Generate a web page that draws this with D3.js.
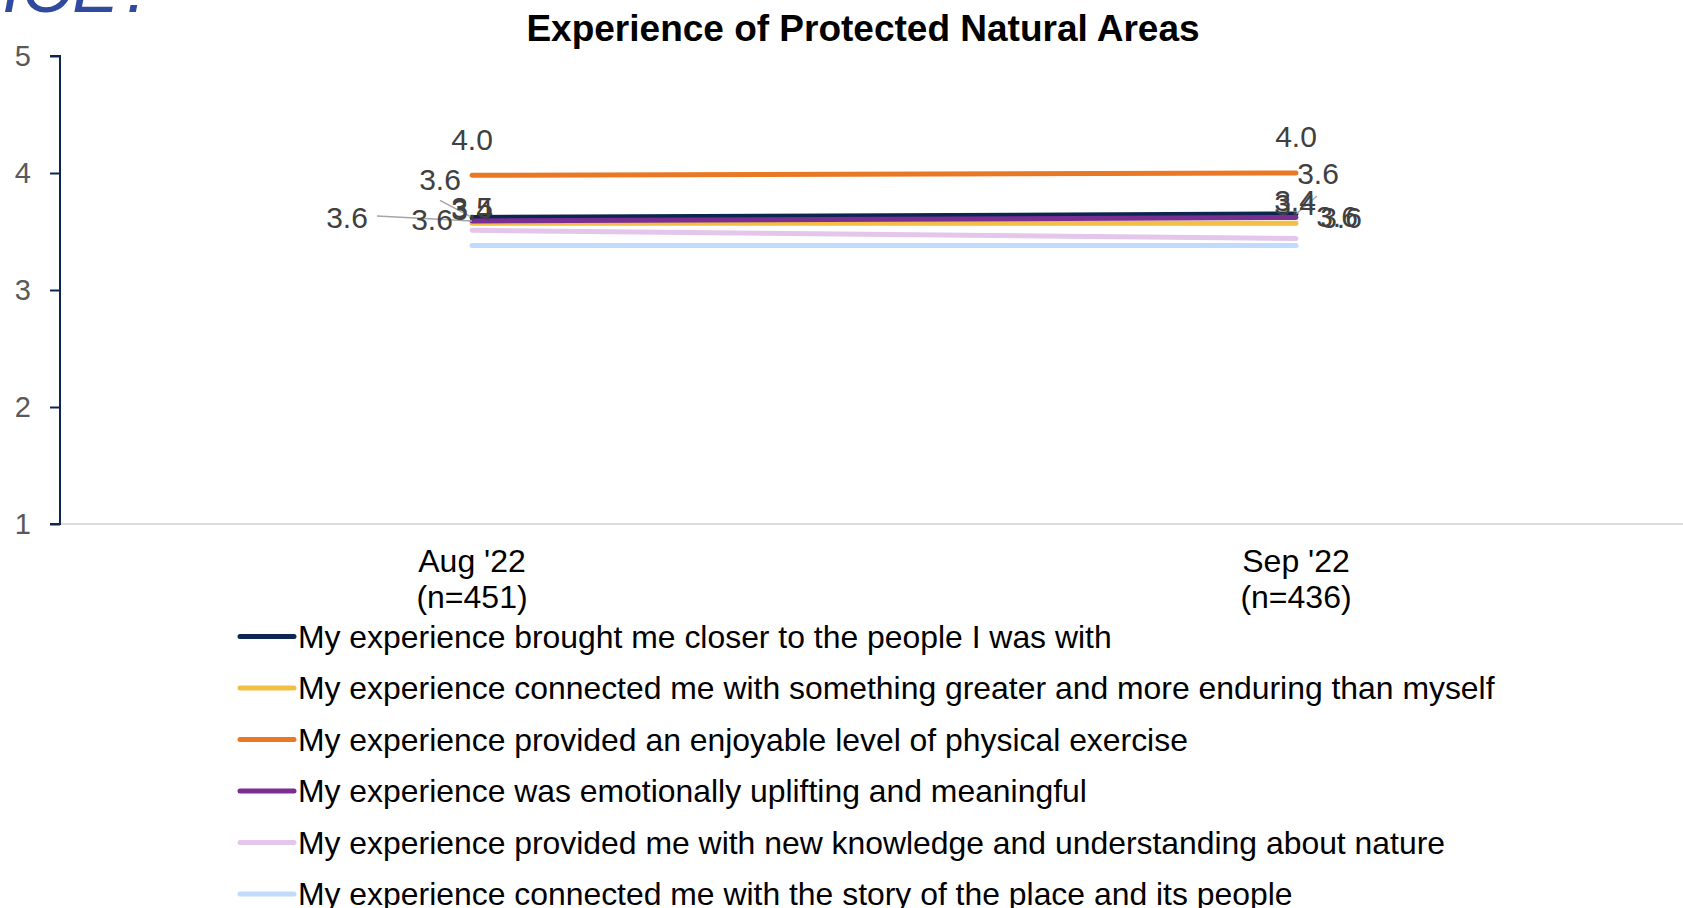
<!DOCTYPE html>
<html>
<head>
<meta charset="utf-8">
<script src="https://cdn.jsdelivr.net/npm/d3@7"></script>
<style>
  body { margin: 0; background: #fff; }
  svg { display: block; font-family: "Liberation Sans", Arial, sans-serif; }
</style>
</head>
<body>
<svg id="chart"></svg>
<script>
// chart data
const periods = ["Aug '22", "Sep '22"];
const sampleSizes = ['(n=451)', '(n=436)'];
const seriesNames = [
  'My experience brought me closer to the people I was with',
  'My experience connected me with something greater and more enduring than myself',
  'My experience provided an enjoyable level of physical exercise',
  'My experience was emotionally uplifting and meaningful',
  'My experience provided me with new knowledge and understanding about nature',
  'My experience connected me with the story of the place and its people'
];
const augValues = [3.62, 3.57, 3.98, 3.59, 3.51, 3.38];
const sepValues = [3.65, 3.57, 4.00, 3.62, 3.44, 3.38];
const seriesColors = ['#0d2650', '#f2be44', '#e97724', '#7a2e91', '#e3c6ea', '#c0dbfb'];
const yTicks = [1, 2, 3, 4, 5];

// label placement (dx, dy from the point, optional leader start) -- excel piled these up
const labelOffsets = [
  [{dx: -32, dy: -27, leader: [-32, -17]}, {dx: 22, dy: -30, leader: [21, -18]}],
  [{dx: -40, dy: 7}, {dx: 45, dy: 5}],
  [{dx: 0, dy: -25}, {dx: 0, dy: -26}],
  [{dx: -125, dy: 7, leader: [-95, -5]}, {dx: 41, dy: 10}],
  [{dx: 0, dy: -12}, {dx: -1, dy: -28}],
  [{dx: 0, dy: -26}, {dx: -1, dy: -31}]
];

const W = 1683, H = 908;
const svg = d3.select('#chart').attr('width', W).attr('height', H);

const plot = {left: 60, right: 1708, top: 56, bottom: 524};

const x = d3.scalePoint()
  .domain(periods)
  .range([plot.left, plot.right])
  .padding(0.5);

const y = d3.scaleLinear()
  .domain([1, 5])
  .range([plot.bottom, plot.top]);

// cut-off slide heading peeking in at the top left
svg.append('text')
  .attr('x', 158)
  .attr('y', 12)
  .attr('text-anchor', 'end')
  .attr('font-size', 70)
  .attr('font-style', 'italic')
  .attr('fill', '#2f4a9e')
  .text('VOICE?');

svg.append('text')
  .attr('x', 863)
  .attr('y', 41)
  .attr('text-anchor', 'middle')
  .attr('font-size', 37)
  .attr('font-weight', 'bold')
  .attr('fill', '#000')
  .text('Experience of Protected Natural Areas');

// category baseline
svg.append('line')
  .attr('x1', plot.left).attr('x2', W)
  .attr('y1', y(1)).attr('y2', y(1))
  .attr('stroke', '#d0d0d0')
  .attr('stroke-width', 1.5);

// y axis
const yAxis = svg.append('g')
  .attr('transform', `translate(${plot.left},0)`)
  .call(d3.axisLeft(y).tickValues(yTicks).tickSize(10).tickPadding(19).tickFormat(d3.format('d')));
yAxis.select('.domain').attr('stroke', '#0d2650').attr('stroke-width', 2)
  .attr('d', `M-10,${y(5)}H0V${y(1)}H-10`);
yAxis.selectAll('.tick line').attr('stroke', '#0d2650').attr('stroke-width', 2);
yAxis.selectAll('.tick text').attr('font-size', 29).attr('fill', '#595959')
  .attr('font-family', '"Liberation Sans", Arial, sans-serif');

// x labels, two lines each
const xLab = svg.append('g').selectAll('text')
  .data(periods)
  .join('text')
  .attr('x', d => x(d))
  .attr('text-anchor', 'middle')
  .attr('font-size', 32)
  .attr('fill', '#000');
xLab.append('tspan').attr('x', d => x(d)).attr('y', 572).text(d => d);
xLab.append('tspan').attr('x', d => x(d)).attr('y', 608).text((d, i) => sampleSizes[i]);

const series = seriesNames.map((name, i) => ({
  name,
  color: seriesColors[i],
  points: [augValues[i], sepValues[i]].map((v, j) => ({period: periods[j], value: v, off: labelOffsets[i][j]}))
}));

const line = d3.line().x(d => x(d.period)).y(d => y(d.value));

svg.append('g').selectAll('path')
  .data(series)
  .join('path')
  .attr('d', s => line(s.points))
  .attr('fill', 'none')
  .attr('stroke', s => s.color)
  .attr('stroke-width', 5)
  .attr('stroke-linecap', 'round');

// data labels
const allPts = series.flatMap(s => s.points);
const fmt = d3.format('.1f');

svg.append('g').selectAll('line')
  .data(allPts.filter(p => p.off.leader))
  .join('line')
  .attr('x1', p => x(p.period) + p.off.leader[0])
  .attr('y1', p => y(p.value) + p.off.leader[1])
  .attr('x2', p => x(p.period))
  .attr('y2', p => y(p.value))
  .attr('stroke', '#a6a6a6')
  .attr('stroke-width', 1.5);

svg.append('g').selectAll('text')
  .data(allPts)
  .join('text')
  .attr('x', p => x(p.period) + p.off.dx)
  .attr('y', p => y(p.value) + p.off.dy)
  .attr('text-anchor', 'middle')
  .attr('font-size', 30)
  .attr('fill', '#404040')
  .text(p => fmt(p.value));

// legend
const legend = svg.append('g').selectAll('g')
  .data(series)
  .join('g')
  .attr('transform', (s, i) => `translate(240,${636.5 + i * 51.5})`);
legend.append('line')
  .attr('x1', 0).attr('x2', 54)
  .attr('stroke', s => s.color)
  .attr('stroke-width', 5)
  .attr('stroke-linecap', 'round');
legend.append('text')
  .attr('x', 58)
  .attr('dy', '0.36em')
  .attr('font-size', 31.9)
  .attr('fill', '#000')
  .text(s => s.name);
</script>
</body>
</html>
